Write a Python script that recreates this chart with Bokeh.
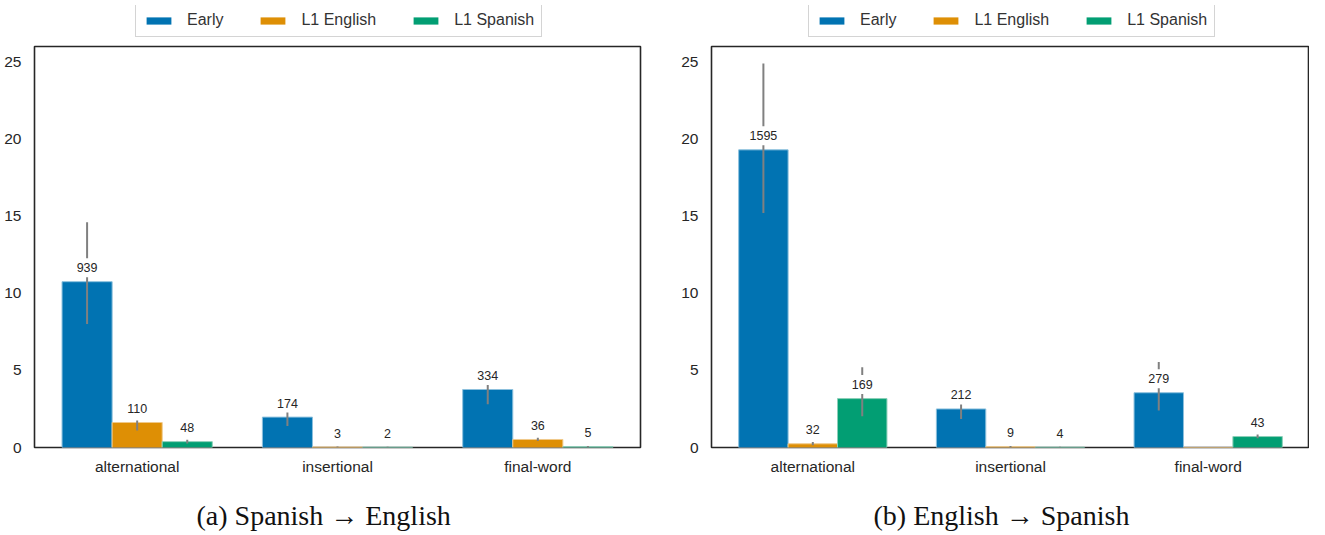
from bokeh.plotting import figure
from bokeh.models import (ColumnDataSource, Range1d, FixedTicker, Legend, LegendItem, Title)
from bokeh.transform import dodge
from bokeh.layouts import row, column
from bokeh.core.properties import value
from bokeh.embed import file_html
from bokeh.resources import INLINE

categories = ["alternational", "insertional", "final-word"]
cat_index = [0, 1, 2]
series = ["Early", "L1 English", "L1 Spanish"]
colors = ["#0173b2", "#de8f05", "#029e73"]
edge_colors = ["#8cc0dd", "#f0c98a", "#8ccfb8"]
y_ticks = [0, 5, 10, 15, 20, 25]

# (a) Spanish -> English
a_early = [10.75, 1.97, 3.76]
a_early_lo = [8.0, 1.4, 2.8]
a_early_hi = [14.6, 2.5, 4.7]
a_early_lbl = ["939", "174", "334"]
a_eng = [1.62, 0.03, 0.52]
a_eng_lo = [1.1, 0.0, 0.42]
a_eng_hi = [1.75, 0.07, 0.64]
a_eng_lbl = ["110", "3", "36"]
a_spa = [0.38, 0.02, 0.05]
a_spa_lo = [0.26, 0.0, 0.0]
a_spa_hi = [0.5, 0.05, 0.1]
a_spa_lbl = ["48", "2", "5"]

# (b) English -> Spanish
b_early = [19.3, 2.5, 3.55]
b_early_lo = [15.2, 1.85, 2.4]
b_early_hi = [24.9, 3.2, 5.55]
b_early_lbl = ["1595", "212", "279"]
b_eng = [0.24, 0.05, 0.0]
b_eng_lo = [0.15, 0.0, 0.0]
b_eng_hi = [0.35, 0.1, 0.0]
b_eng_lbl = ["32", "9", ""]
b_spa = [3.17, 0.02, 0.71]
b_spa_lo = [2.03, 0.0, 0.6]
b_spa_hi = [5.2, 0.05, 0.85]
b_spa_lbl = ["169", "4", "43"]

caption_a = "(a) Spanish \u2192 English"
caption_b = "(b) English \u2192 Spanish"

SANS = "Liberation Sans"
SERIF = "Liberation Serif"


def make_legend_fig(frame_w, bl, br):
    lf = figure(frame_width=frame_w, frame_height=33, output_backend="svg",
                toolbar_location=None, x_range=Range1d(0, 1), y_range=Range1d(0, 1),
                min_border_left=bl, min_border_right=br, min_border_top=5,
                min_border_bottom=0, x_axis_location=None, y_axis_location=None)
    lf.xgrid.visible = False
    lf.ygrid.visible = False
    lf.outline_line_color = None
    items = []
    for col, name in zip(colors, series):
        # zero-area placeholder, only its fill colour is used for the legend swatch
        r = lf.vbar(x=[0.5], top=[0], bottom=[0], width=0.1, fill_color=col, line_color=None)
        items.append(LegendItem(label=name, renderers=[r]))
    leg = Legend(items=items, orientation="horizontal", location=(int(frame_w / 2 - 202), 1))
    leg.label_text_font = SANS
    leg.label_text_font_size = "16px"
    leg.label_text_color = "#333333"
    leg.glyph_width = 31
    leg.glyph_height = 9
    leg.label_standoff = 13
    leg.spacing = 34
    leg.padding = 7
    leg.margin = 0
    leg.border_line_color = "#aaaaaa"
    leg.border_line_width = 1.5
    leg.background_fill_color = "white"
    lf.add_layout(leg, "center")
    return lf


def make_panel(vals, caption, frame_w, bl, br):
    p = figure(frame_width=frame_w, frame_height=401, output_backend="svg", toolbar_location=None,
               x_range=Range1d(-0.5125, 2.5125), y_range=Range1d(0, 26),
               min_border_left=bl, min_border_right=br, min_border_top=8,
               min_border_bottom=90)
    p.xgrid.visible = False
    p.ygrid.visible = False
    p.outline_line_color = "#262626"
    p.outline_line_width = 1.6
    p.background_fill_color = "white"
    p.border_fill_color = "white"
    for ax in (p.xaxis, p.yaxis):
        ax.axis_line_color = None
        ax.major_tick_line_color = None
        ax.minor_tick_line_color = None
        ax.major_tick_out = 0
        ax.major_tick_in = 0
        ax.minor_tick_out = 0
        ax.major_label_text_font = SANS
        ax.major_label_text_font_size = "15.5px"
        ax.major_label_text_color = "#262626"
    p.xaxis.ticker = FixedTicker(ticks=cat_index)
    p.xaxis.major_label_overrides = {i: c for i, c in zip(cat_index, categories)}
    p.xaxis.major_label_standoff = 10
    p.yaxis.ticker = FixedTicker(ticks=y_ticks)
    p.yaxis.major_label_standoff = 13

    offsets = [-0.25, 0.0, 0.25]
    for (top, lo, hi, lbl), off, col, ecol in zip(vals, offsets, colors, edge_colors):
        src = ColumnDataSource(dict(x=cat_index, top=top, lo=lo, hi=hi, lbl=lbl))
        p.vbar(x=dodge("x", off), top="top", width=0.25, source=src,
               fill_color=col, line_color=ecol, line_width=1.0)
        p.segment(x0=dodge("x", off), y0="lo", x1=dodge("x", off), y1="hi", source=src,
                  line_color="#808080", line_width=2)
        p.text(x=dodge("x", off), y="top", text="lbl", source=src, y_offset=-14,
               text_align="center", text_baseline="middle",
               text_font=value(SANS), text_font_size="12.5px", text_color="#262626",
               background_fill_color="white", padding=5)

    t = Title(text=caption, align="left", text_font=SERIF, text_font_size="28px",
              text_font_style="normal", text_color="#111111", standoff=41, offset=162)
    p.add_layout(t, "below")
    return p


pa = make_panel([(a_early, a_early_lo, a_early_hi, a_early_lbl),
                 (a_eng, a_eng_lo, a_eng_hi, a_eng_lbl),
                 (a_spa, a_spa_lo, a_spa_hi, a_spa_lbl)], caption_a, 606, 34, 17)
pb = make_panel([(b_early, b_early_lo, b_early_hi, b_early_lbl),
                 (b_eng, b_eng_lo, b_eng_hi, b_eng_lbl),
                 (b_spa, b_spa_lo, b_spa_hi, b_spa_lbl)], caption_b, 598, 54, 0)
la = make_legend_fig(606, 34, 17)
lb = make_legend_fig(598, 54, 0)

layout = row(column(la, pa), column(lb, pb))
open("out.html", "w").write(file_html(layout, INLINE))
